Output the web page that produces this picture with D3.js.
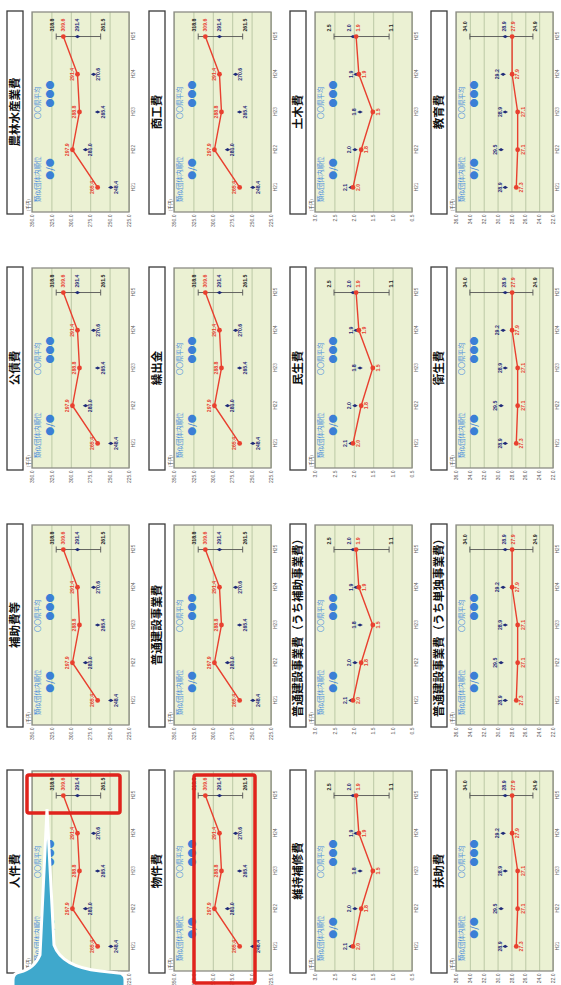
<!DOCTYPE html>
<html>
<head>
<meta charset="utf-8">
<script src="https://cdn.jsdelivr.net/npm/d3@7"></script>
<style>
  html, body { margin: 0; padding: 0; background: #ffffff; }
  svg { display: block; }
</style>
</head>
<body>
<div id="chart"></div>
<script>
// page is drawn landscape and turned a quarter turn to the left
const pageW = 985
const pageH = 561

const years = ['H21', 'H22', 'H23', 'H24', 'H25']

// titles by row (top to bottom) and column (left to right) of the landscape page
const rowTitles = [
  ['人件費', '補助費等', '公債費', '農林水産業費'],
  ['物件費', '普通建設事業費', '繰出金', '商工費'],
  ['維持補修費', '普通建設事業費（うち補助事業費）', '民生費', '土木費'],
  ['扶助費', '普通建設事業費（うち単独事業費）', '衛生費', '教育費']
]
// which value set each row uses
const rowSet = ['A', 'A', 'B', 'C']

// set A (千円)
const ownA = [265.4, 297.9, 288.8, 291.4, 309.6]
const avgA = [248.4, 281.0, 265.4, 270.6, 291.4]
const rangeA = [318.8, 261.5]
const ticksA = [225, 250, 275, 300, 325, 350]

// set B
const ownB = [2.02, 1.81, 1.51, 1.87, 1.94]
const avgB = [2.07, 1.97, 1.84, 1.94, 2.02]
const rangeB = [2.51, 1.09]
const ticksB = [0.5, 1.0, 1.5, 2.0, 2.5, 3.0]

// set C
const ownC = [27.3, 27.1, 27.1, 27.9, 27.9]
const avgC = [28.9, 29.5, 28.9, 29.2, 28.9]
const rangeC = [34.0, 24.9]
const ticksC = [22, 24, 26, 28, 30, 32, 34, 36]

const sets = {
  A: { own: ownA, avg: avgA, range: rangeA, ticks: ticksA },
  B: { own: ownB, avg: avgB, range: rangeB, ticks: ticksB },
  C: { own: ownC, avg: avgC, range: rangeC, ticks: ticksC }
}

const colX = [14, 260, 517, 773]
const rowY = [7, 149, 290, 431]
const plotW = 200
const plotH = 97
const titleH = 16
const plotGap = 25

const RED = '#e8402f'
const NAVY = '#1f2a78'
const LEG = '#4f8fdc'
const DOT = '#3b7fd6'
const fmt = d3.format('.1f')

const svg = d3.select('#chart').append('svg')
  .attr('width', pageH)
  .attr('height', pageW)
  .style('font-family', '"Noto Sans CJK JP", "Noto Sans", sans-serif')

svg.append('rect').attr('width', pageH).attr('height', pageW).attr('fill', '#fff')

const page = svg.append('g')
  .attr('transform', `translate(0,${pageW}) rotate(-90)`)

function drawPanel(title, set, x0, y0) {
  const g = page.append('g').attr('transform', `translate(${x0},${y0})`)

  // title box
  g.append('rect')
    .attr('x', -2).attr('y', 0)
    .attr('width', plotW + 3).attr('height', titleH)
    .attr('fill', '#fff').attr('stroke', '#3a3a3a').attr('stroke-width', 1.3)
  g.append('text')
    .attr('x', plotW / 2).attr('y', titleH / 2 + 0.5)
    .attr('text-anchor', 'middle').attr('dominant-baseline', 'middle')
    .attr('font-size', 11.5).attr('font-weight', 700).attr('fill', '#111')
    .text(title)

  const p = g.append('g').attr('transform', `translate(0,${plotGap})`)

  const x = d3.scalePoint().domain(years).range([0, plotW]).padding(0.65)
  const y = d3.scaleLinear()
    .domain([d3.min(set.ticks), d3.max(set.ticks)])
    .range([plotH, 0])

  p.append('rect')
    .attr('width', plotW).attr('height', plotH)
    .attr('fill', '#ebf1d3')

  // grid lines
  p.append('g')
    .call(d3.axisLeft(y).tickValues(set.ticks).tickSize(-plotW).tickFormat(''))
    .call(a => a.select('.domain').remove())
    .call(a => a.selectAll('line').attr('stroke', '#b6c4a0').attr('stroke-width', 0.9))

  p.append('rect')
    .attr('width', plotW).attr('height', plotH)
    .attr('fill', 'none').attr('stroke', '#8c8c84').attr('stroke-width', 1.3)

  // axes labels
  p.append('g')
    .call(d3.axisLeft(y).tickValues(set.ticks).tickSize(0).tickPadding(2.5).tickFormat(fmt))
    .call(a => a.select('.domain').remove())
    .call(a => a.selectAll('text').attr('font-size', 5).attr('fill', '#555')
      .attr('font-family', '"Liberation Sans", sans-serif'))

  p.append('g')
    .attr('transform', `translate(0,${plotH})`)
    .call(d3.axisBottom(x).tickSize(0).tickPadding(2.5))
    .call(a => a.select('.domain').remove())
    .call(a => a.selectAll('text').attr('font-size', 4.6).attr('fill', '#666')
      .attr('font-family', '"Liberation Sans", sans-serif'))

  p.append('text')
    .attr('x', 1).attr('y', -2)
    .attr('font-size', 4.5).attr('fill', '#444')
    .text('(千円)')

  // legend
  p.append('text').attr('x', 10).attr('y', 8)
    .attr('font-size', 6.5).attr('fill', LEG).text('類似団体内順位')
  p.append('text').attr('x', 43).attr('y', 21).attr('text-anchor', 'middle')
    .attr('font-size', 9).attr('fill', DOT).text('●/●')
  p.append('text').attr('x', 93).attr('y', 8)
    .attr('font-size', 6.5).attr('fill', LEG).text('〇〇県平均')
  p.append('text').attr('x', 118).attr('y', 21).attr('text-anchor', 'middle')
    .attr('font-size', 9).attr('fill', DOT).text('●●●')

  const rows = years.map((yr, i) => ({ yr, own: set.own[i], avg: set.avg[i] }))
  const last = rows[rows.length - 1]
  const xl = x(last.yr)

  // range bar for the last year
  const [hi, lo] = set.range
  p.append('line')
    .attr('x1', xl).attr('x2', xl).attr('y1', y(hi)).attr('y2', y(lo))
    .attr('stroke', '#555').attr('stroke-width', 0.9)
  p.selectAll('.cap').data(set.range).join('line')
    .attr('class', 'cap')
    .attr('x1', xl - 3).attr('x2', xl + 3)
    .attr('y1', d => y(d)).attr('y2', d => y(d))
    .attr('stroke', '#555').attr('stroke-width', 0.9)

  // own line
  p.append('path').datum(rows)
    .attr('fill', 'none').attr('stroke', RED).attr('stroke-width', 1.4)
    .attr('d', d3.line().x(d => x(d.yr)).y(d => y(d.own)))

  p.selectAll('.avg').data(rows).join('path')
    .attr('class', 'avg')
    .attr('transform', d => `translate(${x(d.yr)},${y(d.avg)})`)
    .attr('d', d3.symbol(d3.symbolDiamond, 9))
    .attr('fill', NAVY)

  p.selectAll('.own').data(rows).join('circle')
    .attr('class', 'own')
    .attr('cx', d => x(d.yr)).attr('cy', d => y(d.own)).attr('r', 2.4)
    .attr('fill', RED)

  // value labels for earlier years: upper series above, lower series below
  const lab = []
  rows.slice(0, -1).forEach(d => {
    const ownUp = d.own >= d.avg
    lab.push({ x: x(d.yr), y: y(d.own) + (ownUp ? -5 : 5.5), v: d.own, c: RED })
    lab.push({ x: x(d.yr), y: y(d.avg) + (ownUp ? 5.5 : -5), v: d.avg, c: NAVY })
  })
  p.selectAll('.vl').data(lab).join('text')
    .attr('class', 'vl')
    .attr('x', d => d.x).attr('y', d => d.y)
    .attr('text-anchor', 'middle').attr('dominant-baseline', 'middle')
    .attr('font-size', 5.2).attr('font-weight', 700).attr('fill', d => d.c)
    .attr('font-family', '"Liberation Sans", sans-serif')
    .text(d => fmt(d.v))

  // labels beside the range bar
  const side = [
    { v: hi, y: y(hi) - 4, c: '#222' },
    { v: last.own, y: y(last.own), c: RED },
    { v: last.avg, y: y(last.avg), c: NAVY },
    { v: lo, y: y(lo) + 3, c: '#222' }
  ].sort((a, b) => a.y - b.y)
  for (let k = 0; k < 20; k++) {
    for (let i = 1; i < side.length; i++) {
      const gap = side[i].y - side[i - 1].y
      if (gap < 9) {
        side[i].y += (9 - gap) / 2
        side[i - 1].y -= (9 - gap) / 2
      }
    }
  }
  p.selectAll('.sl').data(side).join('text')
    .attr('class', 'sl')
    .attr('x', xl + 5).attr('y', d => d.y)
    .attr('dominant-baseline', 'middle')
    .attr('font-size', 5.2).attr('font-weight', 700).attr('fill', d => d.c)
    .attr('font-family', '"Liberation Sans", sans-serif')
    .text(d => fmt(d.v))
}

rowTitles.forEach((titles, r) => {
  titles.forEach((t, c) => drawPanel(t, sets[rowSet[r]], colX[c], rowY[r]))
})

// highlight frames
page.append('rect')
  .attr('x', 172).attr('y', 27).attr('width', 38).attr('height', 93)
  .attr('rx', 2).attr('fill', 'none').attr('stroke', '#e0231c').attr('stroke-width', 3.5)
page.append('rect')
  .attr('x', 2).attr('y', 194).attr('width', 208).attr('height', 61)
  .attr('rx', 2).attr('fill', 'none').attr('stroke', '#e0231c').attr('stroke-width', 3.5)

// call-out bubble
page.append('path')
  .attr('d', 'M-10,13 L5,13 Q12,13 13,20 Q16,34 30,40 L176,47 L40,54 Q18,62 14,100 L12,118 Q12,125 5,125 L-10,125 Z')
  .attr('fill', '#3fa8cc').attr('stroke', '#fff').attr('stroke-width', 3)
</script>
</body>
</html>
